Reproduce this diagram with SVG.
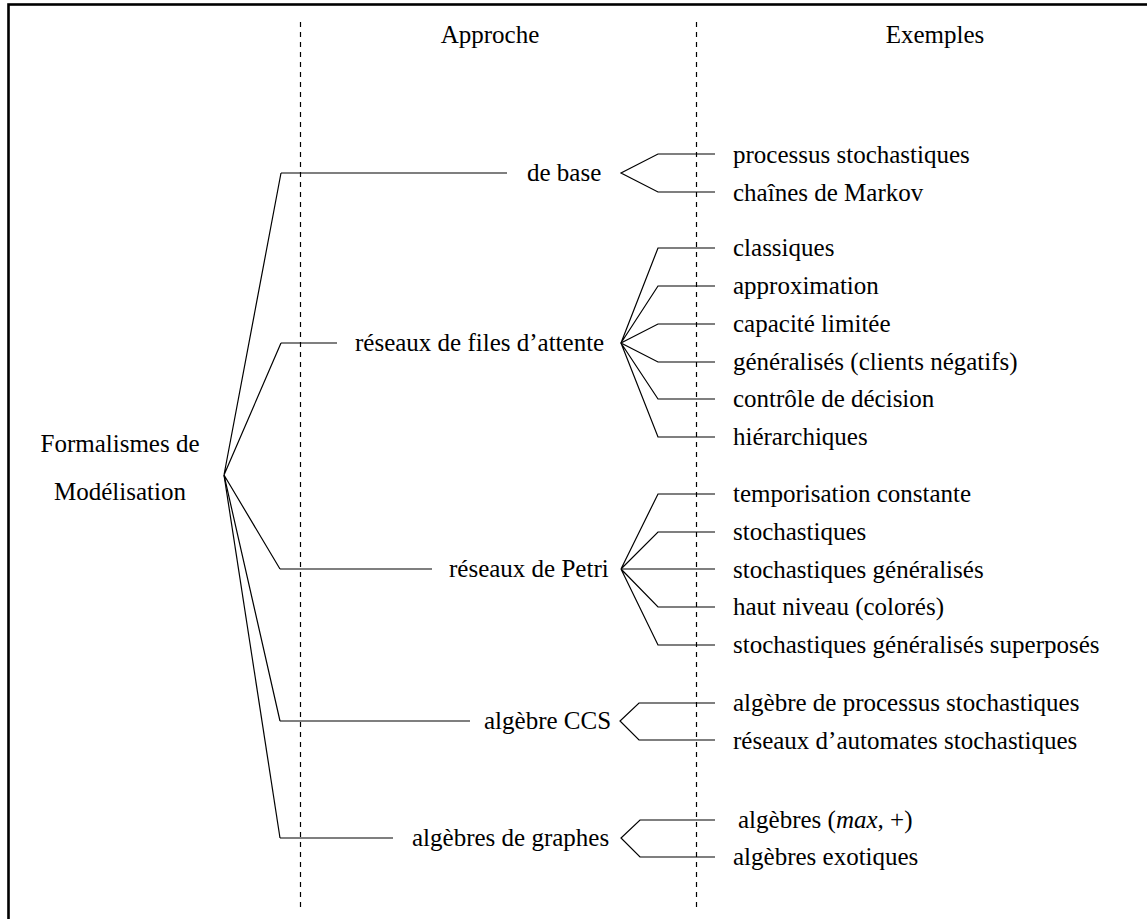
<svg xmlns="http://www.w3.org/2000/svg" width="1147" height="919" viewBox="0 0 1147 919">
<style>
text{font-family:'Liberation Serif','Times New Roman',serif;font-size:25px;fill:#000}
.ln{fill:none;stroke:#000;stroke-width:1.2}
.dash{fill:none;stroke:#000;stroke-width:1.2;stroke-dasharray:5,5}
.mid{text-anchor:middle}
</style>
<rect x="8.5" y="4.5" width="1300" height="1000" fill="#fff" stroke="#000" stroke-width="2.6"/>
<g id="guides">
<line class="dash" x1="300.5" y1="22" x2="300.5" y2="910"/>
<line class="dash" x1="696.5" y1="22" x2="696.5" y2="910"/>
</g>
<g id="headers">
<text class="mid" x="490" y="43">Approche</text>
<text class="mid" x="935" y="43">Exemples</text>
</g>
<g id="connectors">
<polyline class="ln" points="281,173 224,475 281,343"/>
<polyline class="ln" points="280,569 224,475 280,721"/>
<polyline class="ln" points="224,475 280,838"/>
<line class="ln" x1="281" y1="173" x2="507" y2="173"/>
<line class="ln" x1="281" y1="343" x2="337" y2="343"/>
<line class="ln" x1="280" y1="569" x2="432" y2="569"/>
<line class="ln" x1="280" y1="721" x2="470" y2="721"/>
<line class="ln" x1="280" y1="838" x2="393" y2="838"/>
<polyline class="ln" points="715,154 658,154 621,173 658,192 715,192"/>
<polyline class="ln" points="715,248 658,248 621,343 658,286 715,286"/>
<polyline class="ln" points="715,324 658,324 621,343 658,362 715,362"/>
<polyline class="ln" points="715,399 658,399 621,343 658,437 715,437"/>
<polyline class="ln" points="715,494 658,494 621,569 658,532 715,532"/>
<polyline class="ln" points="715,607 658,607 621,569 658,645 715,645"/>
<line class="ln" x1="621" y1="569" x2="715" y2="569"/>
<polyline class="ln" points="715,703 639,703 620,721 639,740 715,740"/>
<polyline class="ln" points="715,820 640,820 621,838 640,857 715,857"/>
</g>
<g id="root">
<text class="mid" x="120" y="452">Formalismes de</text>
<text class="mid" x="120" y="500">Modélisation</text>
</g>
<g id="base">
<text x="527" y="181">de base</text>
<text x="733" y="163">processus stochastiques</text>
<text x="733" y="201">chaînes de Markov</text>
</g>
<g id="files">
<text x="355" y="351">réseaux de files d’attente</text>
<text x="733" y="256">classiques</text>
<text x="733" y="294">approximation</text>
<text x="733" y="332">capacité limitée</text>
<text x="733" y="370">généralisés (clients négatifs)</text>
<text x="733" y="407">contrôle de décision</text>
<text x="733" y="445">hiérarchiques</text>
</g>
<g id="petri">
<text x="449" y="577">réseaux de Petri</text>
<text x="733" y="502">temporisation constante</text>
<text x="733" y="540">stochastiques</text>
<text x="733" y="578">stochastiques généralisés</text>
<text x="733" y="615">haut niveau (colorés)</text>
<text x="733" y="653">stochastiques généralisés superposés</text>
</g>
<g id="ccs">
<text x="484" y="729">algèbre CCS</text>
<text x="733" y="711">algèbre de processus stochastiques</text>
<text x="733" y="749">réseaux d’automates stochastiques</text>
</g>
<g id="graphes">
<text x="412" y="846">algèbres de graphes</text>
<text x="738" y="828">algèbres (<tspan font-style="italic">max,</tspan> +)</text>
<text x="733" y="865">algèbres exotiques</text>
</g>
</svg>
